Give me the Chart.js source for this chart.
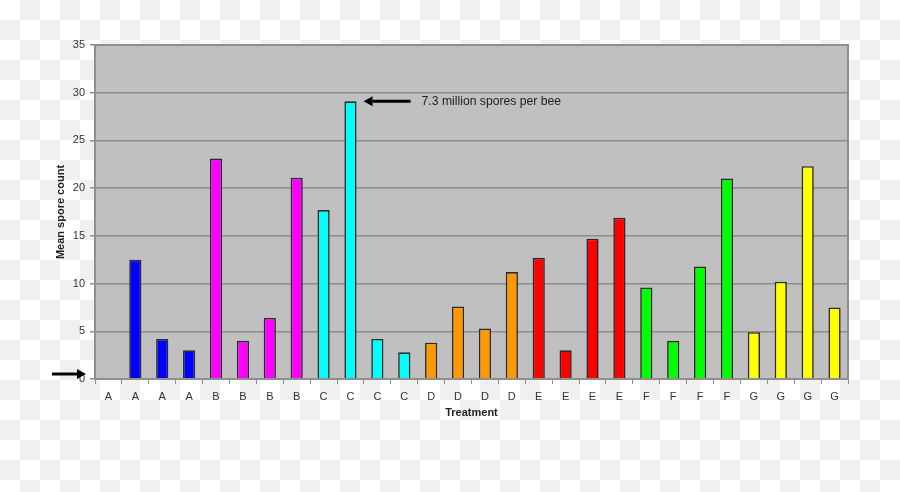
<!DOCTYPE html>
<html>
<head>
<meta charset="utf-8">
<script src="https://cdn.jsdelivr.net/npm/chart.js@4.4.1/dist/chart.umd.min.js"></script>
<style>
  html, body { margin: 0; padding: 0; }
  body {
    width: 900px; height: 492px; overflow: hidden;
    background: repeating-conic-gradient(#f0f0f0 0 25%, #ffffff 0 50%) 0 0 / 40px 40px;
  }
  #wrap { position: relative; width: 900px; height: 492px; }
</style>
</head>
<body>
<div id="wrap"><canvas id="c" width="900" height="492"></canvas></div>
<script>
// ---- data ----
const categories = ['A','A','A','A','B','B','B','B','C','C','C','C','D','D','D','D','E','E','E','E','F','F','F','F','G','G','G','G'];
const meanSporeCount = [null, 12.5, 4.2, 3.0, 23.1, 4.0, 6.4, 21.1, 17.7, 29.1, 4.2, 2.8, 3.8, 7.6, 5.3, 11.2, 12.7, 3.0, 14.7, 16.9, 9.6, 4.0, 11.8, 21.0, 4.9, 10.2, 22.3, 7.5];
const yTicks = [0, 5, 10, 15, 20, 25, 30, 35];
const annotationText = '7.3 million spores per bee';
const annotatedIndex = 9;

// ---- styles ----
const groupColors = { A: '#0000ff', B: '#ff00ff', C: '#00ffff', D: '#ff9900', E: '#ff0000', F: '#00ff00', G: '#ffff00' };
const FONT = "'Liberation Sans', Arial, sans-serif";

function arrow(ctx, x1, y1, x2, y2) {
  const ang = Math.atan2(y2 - y1, x2 - x1);
  const head = 9, hw = 5;
  const bx = x2 - Math.cos(ang) * head, by = y2 - Math.sin(ang) * head;
  ctx.save();
  ctx.strokeStyle = '#000'; ctx.fillStyle = '#000';
  ctx.lineWidth = 3; ctx.lineCap = 'butt';
  ctx.beginPath(); ctx.moveTo(x1, y1); ctx.lineTo(bx, by); ctx.stroke();
  ctx.beginPath();
  ctx.moveTo(x2, y2);
  ctx.lineTo(bx - Math.sin(ang) * hw, by + Math.cos(ang) * hw);
  ctx.lineTo(bx + Math.sin(ang) * hw, by - Math.cos(ang) * hw);
  ctx.closePath(); ctx.fill();
  ctx.restore();
}

const plotPlugin = {
  id: 'plotPlugin',
  beforeDraw(chart) {
    const { ctx, chartArea: a } = chart;
    ctx.save();
    ctx.fillStyle = '#c0c0c0';
    ctx.fillRect(a.left, a.top, a.right - a.left, a.bottom - a.top);
    ctx.restore();
  },
  afterDraw(chart) {
    const { ctx, chartArea: a } = chart;
    const ys = chart.scales.y;
    ctx.save();
    ctx.strokeStyle = '#8f8f8f';
    ctx.lineWidth = 2;
    ctx.strokeRect(a.left, a.top, a.right - a.left, a.bottom - a.top);
    ctx.restore();
    const y0 = ys.getPixelForValue(0) - 5;
    arrow(ctx, a.left - 43, y0, a.left - 9, y0);
    const bar = chart.getDatasetMeta(0).data[annotatedIndex];
    const ty = ys.getPixelForValue(meanSporeCount[annotatedIndex]);
    const tipX = bar.x + bar.width / 2 + 7;
    arrow(ctx, tipX + 47, ty, tipX, ty);
    ctx.save();
    ctx.fillStyle = '#222';
    ctx.font = '12.2px ' + FONT;
    ctx.textBaseline = 'middle';
    ctx.fillText(annotationText, tipX + 58, ty);
    ctx.restore();
  }
};

new Chart(document.getElementById('c'), {
  type: 'bar',
  data: {
    labels: categories,
    datasets: [{
      data: meanSporeCount,
      backgroundColor: categories.map(c => groupColors[c]),
      borderColor: '#2a2a2a',
      borderWidth: 1.6,
      barPercentage: 0.54,
      categoryPercentage: 0.84
    }]
  },
  options: {
    responsive: false,
    animation: false,
    devicePixelRatio: 1,
    layout: { padding: { left: 0, top: 45, right: 52, bottom: 0 } },
    plugins: { legend: { display: false }, tooltip: { enabled: false } },
    scales: {
      x: {
        afterFit(s) { s.height = 113; },
        grid: { display: true, drawOnChartArea: false, drawTicks: true, tickLength: 5, color: '#8f8f8f', lineWidth: 1, offset: true },
        border: { display: true, color: '#8f8f8f', width: 2 },
        ticks: { color: '#333', font: { family: FONT, size: 11 }, padding: 6, maxRotation: 0, autoSkip: false },
        title: { display: true, text: 'Treatment', color: '#222', font: { family: FONT, size: 11, weight: 'bold' }, padding: { top: 0, bottom: 72 } }
      },
      y: {
        min: 0, max: 35,
        afterFit(s) { s.width = 95; },
        afterBuildTicks(s) { s.ticks = yTicks.map(v => ({ value: v })); },
        grid: { color: '#8c8c8c', lineWidth: 1.5, tickLength: 5, drawTicks: true },
        border: { display: true, color: '#8f8f8f', width: 2 },
        ticks: { color: '#333', font: { family: FONT, size: 11 }, padding: 5 },
        title: { display: true, text: 'Mean spore count', color: '#222', font: { family: FONT, size: 11, weight: 'bold' }, padding: { top: 54, bottom: 0 } }
      }
    }
  },
  plugins: [plotPlugin]
});
</script>
</body>
</html>
